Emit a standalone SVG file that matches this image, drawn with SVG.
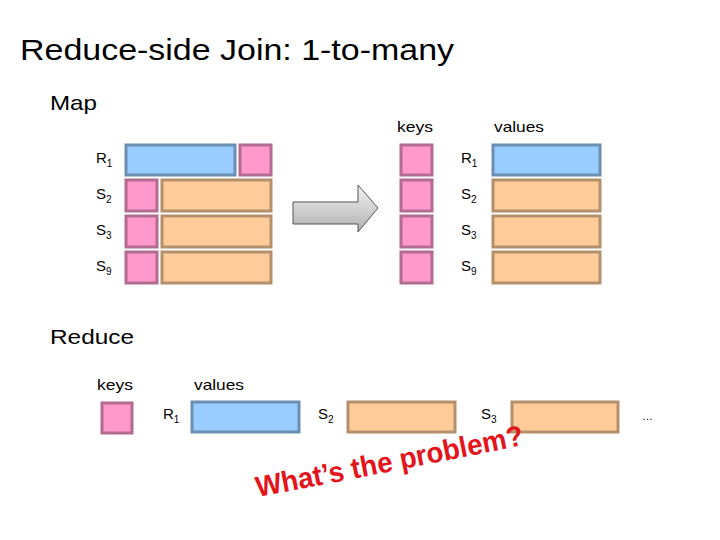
<svg xmlns="http://www.w3.org/2000/svg" width="720" height="540" viewBox="0 0 720 540">
<style>
text{font-family:"Liberation Sans",Arial,sans-serif;fill:#000}
.lb{font-size:15px}
.sb{font-size:10px}
.b{fill:#99ccff;stroke:#6b8fb3;stroke-width:3}
.p{fill:#ff99cc;stroke:#b36b8f;stroke-width:3}
.o{fill:#ffcc99;stroke:#b3906b;stroke-width:3}
</style>
<defs>
<linearGradient id="g" x1="0" y1="0" x2="0" y2="1"><stop offset="0" stop-color="#f2f2f2"/><stop offset="1" stop-color="#b0b0b0"/></linearGradient>
<path id="cp" d="M258,497 Q390,472 528,444"/>
</defs>
<rect width="720" height="540" fill="#fff"/>
<text x="20" y="60" font-size="29" textLength="434" lengthAdjust="spacingAndGlyphs">Reduce-side Join: 1-to-many</text>
<text x="50" y="110" font-size="21" textLength="47" lengthAdjust="spacingAndGlyphs">Map</text>
<text x="50" y="344" font-size="21" textLength="84" lengthAdjust="spacingAndGlyphs">Reduce</text>
<g id="map-left">
<text class="lb" x="96" y="163">R<tspan class="sb" dy="4">1</tspan></text>
<rect class="b" x="126" y="145" width="109" height="30"/><rect class="p" x="240" y="145" width="31" height="30"/>
<text class="lb" x="96" y="199">S<tspan class="sb" dy="4">2</tspan></text>
<rect class="p" x="126" y="180" width="31" height="31"/><rect class="o" x="162" y="180" width="109" height="31"/>
<text class="lb" x="96" y="235">S<tspan class="sb" dy="4">3</tspan></text>
<rect class="p" x="126" y="216" width="31" height="31"/><rect class="o" x="162" y="216" width="109" height="31"/>
<text class="lb" x="96" y="271">S<tspan class="sb" dy="4">9</tspan></text>
<rect class="p" x="126" y="252" width="31" height="31"/><rect class="o" x="162" y="252" width="109" height="31"/>
</g>
<g id="arrow"><path d="M293,202 H358 V185 L378,208 L358,232 V224 H293 Z" fill="url(#g)" stroke="#555" stroke-width="1"/></g>
<g id="map-right">
<text class="lb" x="397" y="132" textLength="36" lengthAdjust="spacingAndGlyphs">keys</text><text class="lb" x="494" y="132" textLength="50" lengthAdjust="spacingAndGlyphs">values</text>
<rect class="p" x="401" y="145" width="31" height="30"/><text class="lb" x="461" y="163">R<tspan class="sb" dy="4">1</tspan></text><rect class="b" x="493" y="145" width="107" height="30"/>
<rect class="p" x="401" y="180" width="31" height="31"/><text class="lb" x="461" y="199">S<tspan class="sb" dy="4">2</tspan></text><rect class="o" x="493" y="180" width="107" height="31"/>
<rect class="p" x="401" y="216" width="31" height="31"/><text class="lb" x="461" y="235">S<tspan class="sb" dy="4">3</tspan></text><rect class="o" x="493" y="216" width="107" height="31"/>
<rect class="p" x="401" y="252" width="31" height="31"/><text class="lb" x="461" y="271">S<tspan class="sb" dy="4">9</tspan></text><rect class="o" x="493" y="252" width="107" height="31"/>
</g>
<g id="reduce">
<text class="lb" x="97" y="390" textLength="36" lengthAdjust="spacingAndGlyphs">keys</text><text class="lb" x="194" y="390" textLength="50" lengthAdjust="spacingAndGlyphs">values</text>
<rect class="p" x="102" y="403" width="30" height="30"/>
<text class="lb" x="163" y="419">R<tspan class="sb" dy="4">1</tspan></text><rect class="b" x="192" y="402" width="107" height="30"/>
<text class="lb" x="318" y="419">S<tspan class="sb" dy="4">2</tspan></text><rect class="o" x="348" y="402" width="107" height="30"/>
<text class="lb" x="481" y="419">S<tspan class="sb" dy="4">3</tspan></text><rect class="o" x="512" y="402" width="106" height="30"/>
<text x="642" y="420" font-size="11" fill="#555">…</text>
</g>
<text font-size="29" font-weight="bold" style="fill:#e3141b" textLength="272" lengthAdjust="spacingAndGlyphs"><textPath href="#cp">What’s the problem?</textPath></text>
</svg>
